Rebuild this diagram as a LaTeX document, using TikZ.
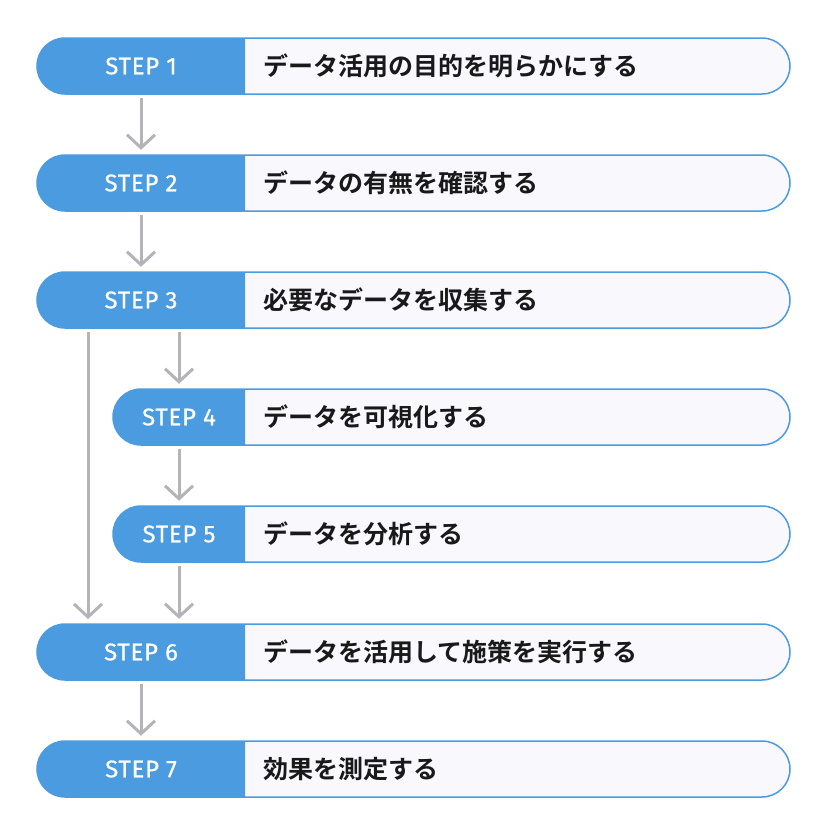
\documentclass[tikz,border=0pt]{standalone}
\usepackage{fontspec}
\setmainfont{Fira Sans}
\newfontfamily\stepfont{Fira Sans}[LetterSpace=3,FakeBold=0.6]
\newfontfamily\jp{Noto Sans CJK JP}[BoldFont={Noto Sans CJK JP Bold}]
\usetikzlibrary{arrows.meta,calc}
\definecolor{sb}{HTML}{4A9BE0}
\definecolor{sg}{HTML}{B4B4B8}
\definecolor{sw}{HTML}{F8F8FD}
\begin{document}
\begin{tikzpicture}[x=1pt,y=-1pt,
  lab/.style={anchor=west,inner sep=0,font=\jp\bfseries\fontsize{25}{25}\selectfont,text=black!90},
  stp/.style={inner sep=0,font=\stepfont\fontsize{24}{24}\selectfont,text=white},
  arr/.style={sg,line width=3pt,-{Straight Barb[length=13pt,width=28pt]},shorten <=4pt,shorten >=5pt}]
\useasboundingbox (0,0) rectangle (828,828);
\newcommand\steprow[5]{%
  \draw[sb,fill=sw,line width=1.5pt,rounded corners=28pt] (#2,#3-28) rectangle (790,#3+28);
  \fill[sb,rounded corners=28pt] (245,#3-28) -- (#2,#3-28) -- (#2,#3+28) [sharp corners] -- (245,#3+28) -- cycle;
  \node[stp,minimum width=245-#2,minimum height=56] (s#1) at ({(245+#2)/2},#3) {STEP #1};
  \node[lab] (t#1) at (263,#3) {#4};}
\steprow{1}{37}{66}{データ活用の目的を明らかにする}{}
\steprow{2}{37}{183}{データの有無を確認する}{}
\steprow{3}{37}{300}{必要なデータを収集する}{}
\steprow{4}{113}{417}{データを可視化する}{}
\steprow{5}{113}{534}{データを分析する}{}
\steprow{6}{37}{652}{データを活用して施策を実行する}{}
\steprow{7}{37}{769}{効果を測定する}{}
\draw[arr] (s1.south) -- (s2.north);
\draw[arr] (s2.south) -- (s3.north);
\draw[arr] (s3.south -| s4.north) -- (s4.north);
\draw[arr] (s4.south) -- (s5.north);
\draw[arr] (s5.south) -- (s6.north -| s5.south);
\coordinate (la) at (88,328);
\coordinate (lb) at (88,624);
\draw[arr] (la) -- (lb);
\draw[arr] (s6.south) -- (s7.north);
\end{tikzpicture}
\end{document}
